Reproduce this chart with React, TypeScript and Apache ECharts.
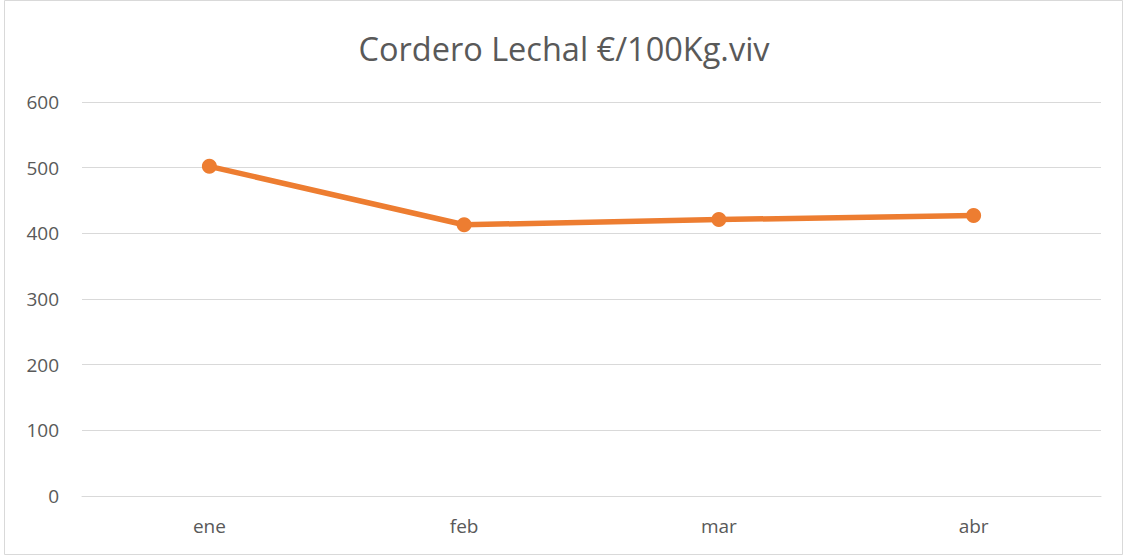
import React, { useEffect, useRef } from "react";
import * as echarts from "echarts";

const categories = ["ene", "feb", "mar", "abr"];
const values = [502, 413, 421, 427];
const yTicks = [0, 100, 200, 300, 400, 500, 600];
const title = "Cordero Lechal €/100Kg.viv";

export default function App() {
  const ref = useRef<HTMLDivElement>(null);
  useEffect(() => {
    if (!ref.current) return;
    const chart = echarts.init(ref.current, undefined, { renderer: "svg" });
    chart.setOption({
      animation: false,
      backgroundColor: "#ffffff",
      title: {
        text: title,
        left: "center",
        top: 27,
        textStyle: {
          fontFamily: "Open Sans",
          fontSize: 32.5,
          fontWeight: "normal",
          color: "#595959",
        },
      },
      graphic: [
        {
          type: "rect",
          shape: { x: 4.5, y: 0.5, width: 1118, height: 554 },
          style: { fill: "none", stroke: "#d9d9d9", lineWidth: 1 },
          silent: true,
        },
      ],
      grid: { left: 82, right: 27, top: 102, bottom: 60 },
      xAxis: {
        type: "category",
        data: categories,
        boundaryGap: true,
        axisLine: { show: true, lineStyle: { color: "#d9d9d9", width: 1 } },
        axisTick: { show: false },
        axisLabel: {
          color: "#595959",
          fontSize: 19,
          fontFamily: "Open Sans",
          margin: 20,
        },
      },
      yAxis: {
        type: "value",
        min: yTicks[0],
        max: yTicks[yTicks.length - 1],
        interval: 100,
        axisLine: { show: false },
        axisTick: { show: false },
        splitLine: { lineStyle: { color: "#d9d9d9", width: 1 } },
        axisLabel: {
          color: "#595959",
          fontSize: 19,
          fontFamily: "Open Sans",
          margin: 23,
        },
      },
      series: [
        {
          type: "line",
          data: values,
          symbol: "circle",
          symbolSize: 15,
          lineStyle: { color: "#ED7D31", width: 5.5 },
          itemStyle: { color: "#ED7D31" },
        },
      ],
    });
    return () => chart.dispose();
  }, []);
  return (
    <div
      ref={ref}
      style={{ position: "absolute", left: 0, top: 0, width: 1128, height: 556 }}
    />
  );
}
